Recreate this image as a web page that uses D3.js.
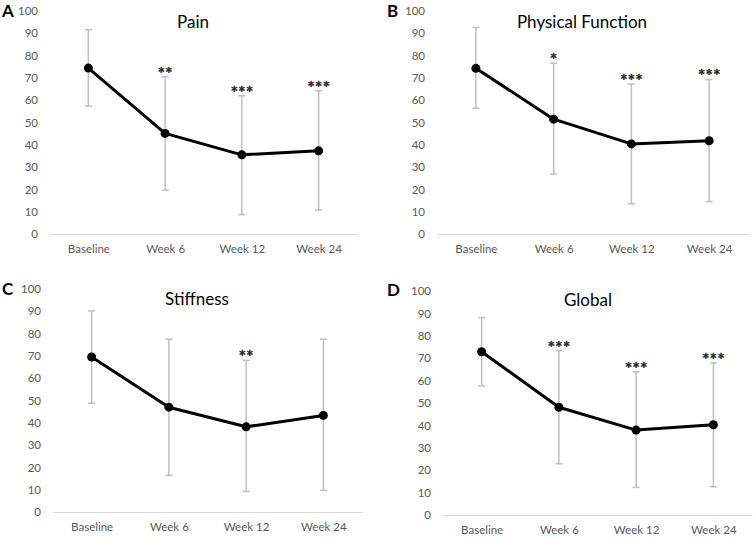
<!DOCTYPE html>
<html>
<head>
<meta charset="utf-8">
<script src="https://cdn.jsdelivr.net/npm/d3@7"></script>
<style>
  body { margin: 0; background: #fff; }
  svg text { font-family: Lato, "Open Sans", sans-serif; }
</style>
</head>
<body>
<script>
// chart data
const categories = ["Baseline", "Week 6", "Week 12", "Week 24"];
const yTicks = [0, 10, 20, 30, 40, 50, 60, 70, 80, 90, 100];

const painMean  = [74.4, 45.1, 35.5, 37.3];
const painUpper = [91.6, 70.5, 62.0, 64.2];
const painLower = [57.3, 19.6, 8.7, 10.8];
const painStars = ["", "**", "***", "***"];

const physMean  = [74.3, 51.5, 40.4, 41.8];
const physUpper = [92.6, 76.6, 67.3, 69.3];
const physLower = [56.4, 26.9, 13.6, 14.5];
const physStars = ["", "*", "***", "***"];

const stiffMean  = [69.5, 47.0, 38.2, 43.3];
const stiffUpper = [90.2, 77.5, 68.0, 77.5];
const stiffLower = [48.8, 16.4, 9.2, 9.7];
const stiffStars = ["", "", "**", ""];

const globalMean  = [72.9, 48.1, 37.9, 40.3];
const globalUpper = [88.1, 73.4, 63.9, 67.9];
const globalLower = [57.6, 22.9, 12.3, 12.6];
const globalStars = ["", "***", "***", "***"];

const width = 755;
const height = 538;

const svg = d3.select("body")
  .append("svg")
  .attr("width", width)
  .attr("height", height);

// panel placement (layout only)
const panels = [
  { letter: "A", title: "Pain", mean: painMean, upper: painUpper, lower: painLower, stars: painStars,
    x0: 50, x1: 357, y0: 234, y1: 11, titleX: 193, titleY: 28, letterX: 2, letterY: 17 },
  { letter: "B", title: "Physical Function", mean: physMean, upper: physUpper, lower: physLower, stars: physStars,
    x0: 437, x1: 748, y0: 234, y1: 11, titleX: 582, titleY: 28, letterX: 387, letterY: 17 },
  { letter: "C", title: "Stiffness", mean: stiffMean, upper: stiffUpper, lower: stiffLower, stars: stiffStars,
    x0: 53, x1: 362, y0: 512, y1: 289, titleX: 197, titleY: 305, letterX: 2, letterY: 295 },
  { letter: "D", title: "Global", mean: globalMean, upper: globalUpper, lower: globalLower, stars: globalStars,
    x0: 443, x1: 752, y0: 515, y1: 291, titleX: 588, titleY: 306, letterX: 387, letterY: 296 }
];

panels.forEach(p => {
  const g = svg.append("g");

  const x = d3.scalePoint()
    .domain(categories)
    .range([p.x0, p.x1])
    .padding(0.5);

  const y = d3.scaleLinear()
    .domain([0, 100])
    .range([p.y0, p.y1]);

  // y axis labels only (no line, no ticks)
  const yAxis = g.append("g")
    .attr("transform", `translate(${p.x0 - 12}, 0)`)
    .call(d3.axisLeft(y).tickValues(yTicks).tickSize(0).tickPadding(0));
  yAxis.select(".domain").remove();
  yAxis.selectAll("text")
    .attr("font-size", "11.5px")
    .attr("font-family", "Lato, sans-serif")
    .attr("fill", "#595959");

  // x axis
  const xAxis = g.append("g")
    .attr("transform", `translate(0, ${p.y0})`)
    .call(d3.axisBottom(x).tickSize(0).tickPadding(11).tickSizeOuter(0));
  xAxis.select(".domain")
    .attr("stroke", "#d9d9d9")
    .attr("stroke-width", 1);
  xAxis.selectAll("text")
    .attr("font-size", "11.5px")
    .attr("font-family", "Lato, sans-serif")
    .attr("fill", "#595959");

  const rows = categories.map((c, i) => ({
    cat: c, mean: p.mean[i], upper: p.upper[i], lower: p.lower[i], star: p.stars[i]
  }));

  // error bars
  const eb = g.selectAll(".eb")
    .data(rows)
    .enter()
    .append("g")
    .attr("stroke", "#bfbfbf")
    .attr("stroke-width", 1.5);

  eb.append("line")
    .attr("x1", d => x(d.cat))
    .attr("x2", d => x(d.cat))
    .attr("y1", d => y(d.upper))
    .attr("y2", d => y(d.lower));

  eb.append("line")
    .attr("x1", d => x(d.cat) - 3.5)
    .attr("x2", d => x(d.cat) + 3.5)
    .attr("y1", d => y(d.upper))
    .attr("y2", d => y(d.upper));

  eb.append("line")
    .attr("x1", d => x(d.cat) - 3.5)
    .attr("x2", d => x(d.cat) + 3.5)
    .attr("y1", d => y(d.lower))
    .attr("y2", d => y(d.lower));

  // mean line
  const line = d3.line()
    .x(d => x(d.cat))
    .y(d => y(d.mean));

  g.append("path")
    .datum(rows)
    .attr("d", line)
    .attr("fill", "none")
    .attr("stroke", "#000")
    .attr("stroke-width", 3)
    .attr("stroke-linejoin", "round");

  g.selectAll("circle")
    .data(rows)
    .enter()
    .append("circle")
    .attr("cx", d => x(d.cat))
    .attr("cy", d => y(d.mean))
    .attr("r", 4.5)
    .attr("fill", "#000");

  // significance stars
  g.selectAll(".star")
    .data(rows.filter(d => d.star))
    .enter()
    .append("text")
    .attr("x", d => x(d.cat))
    .attr("y", d => y(d.upper) + 3)
    .attr("text-anchor", "middle")
    .attr("font-family", "Liberation Sans, Arial, sans-serif")
    .attr("font-size", "18px")
    .attr("fill", "#262626")
    .attr("stroke", "#262626")
    .attr("stroke-width", 0.5)
    .text(d => d.star);

  // title
  g.append("text")
    .attr("x", p.titleX)
    .attr("y", p.titleY)
    .attr("text-anchor", "middle")
    .attr("font-size", "17px")
    .attr("fill", "#000")
    .text(p.title);

  // panel letter
  g.append("text")
    .attr("x", p.letterX)
    .attr("y", p.letterY)
    .attr("font-family", "Liberation Sans, Arial, sans-serif")
    .attr("font-size", "17px")
    .attr("font-weight", "bold")
    .attr("fill", "#000")
    .text(p.letter);
});
</script>
</body>
</html>
